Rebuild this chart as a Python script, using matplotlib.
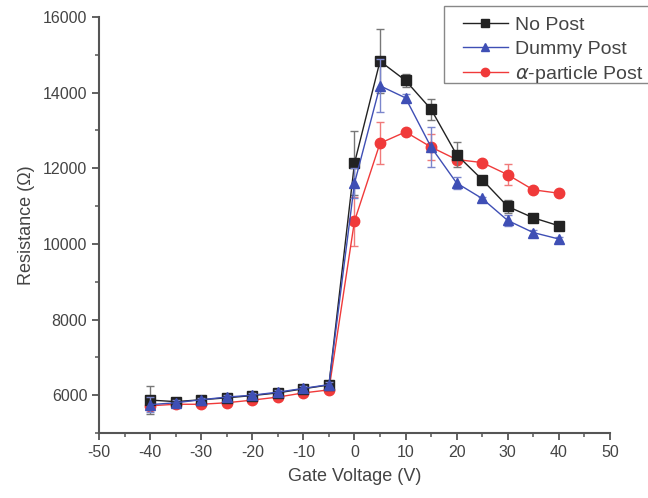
import matplotlib.pyplot as plt
from matplotlib.patches import Rectangle
from matplotlib.ticker import MultipleLocator

plt.rcParams['font.family'] = ['Liberation Sans', 'DejaVu Sans']
plt.rcParams['axes.unicode_minus'] = False

gate_v = [-40, -35, -30, -25, -20, -15, -10, -5, 0, 5, 10, 15, 20, 25, 30, 35, 40]

no_post = [5870, 5830, 5880, 5930, 5990, 6060, 6170, 6270, 12130, 14830, 14320, 13560, 12360, 11700, 10990, 10690, 10480]
no_post_err = [380, 60, 50, 50, 50, 50, 60, 80, 850, 840, 180, 280, 330, 60, 170, 60, 60]

dummy_post = [5750, 5800, 5880, 5950, 6000, 6080, 6180, 6280, 11600, 14180, 13860, 12560, 11610, 11200, 10620, 10300, 10130]
dummy_post_err = [200, 60, 50, 60, 60, 60, 60, 80, 400, 700, 100, 520, 150, 50, 150, 60, 60]

alpha_post = [5720, 5760, 5760, 5800, 5870, 5950, 6060, 6140, 10600, 12660, 12960, 12560, 12230, 12150, 11830, 11430, 11340]
alpha_post_err = [120, 50, 50, 50, 50, 50, 50, 60, 650, 560, 60, 350, 100, 50, 280, 60, 60]

fig = plt.figure(figsize=(6.48, 4.98), dpi=100)
ax = fig.add_axes([0.153, 0.1305, 0.788, 0.8355])

e1 = ax.errorbar(gate_v, no_post, yerr=no_post_err, color='#222222', ecolor='#777777',
                 marker='s', markersize=6.5, linewidth=1, elinewidth=1, capsize=3, zorder=3)
e2 = ax.errorbar(gate_v, dummy_post, yerr=dummy_post_err, color='#3f4fb5', ecolor='#7b86cc',
                 marker='^', markersize=7.5, linewidth=1, elinewidth=1, capsize=3, zorder=4)
e3 = ax.errorbar(gate_v, alpha_post, yerr=alpha_post_err, color='#f03a3a', ecolor='#f07a7a',
                 marker='o', markersize=7.5, linewidth=1, elinewidth=1, capsize=3, zorder=2)

ax.set_xlim(-50, 50)
ax.set_ylim(5000, 16000)
ax.xaxis.set_major_locator(MultipleLocator(10))
ax.xaxis.set_minor_locator(MultipleLocator(5))
ax.yaxis.set_minor_locator(MultipleLocator(1000))
ax.set_yticks([6000, 8000, 10000, 12000, 14000, 16000])

for s in ['top', 'right']:
    ax.spines[s].set_visible(False)
for s in ['left', 'bottom']:
    ax.spines[s].set_color('#555555')
    ax.spines[s].set_linewidth(1.5)

ax.tick_params(which='major', direction='out', length=5, width=1.3, colors='#555555',
               labelsize=11.5, labelcolor='#444444')
ax.tick_params(which='minor', direction='out', length=3, width=1.1, colors='#555555')

ax.set_xlabel('Gate Voltage (V)', fontsize=13, color='#444444', labelpad=6)
ax.set_ylabel('Resistance (Ω)', fontsize=13, color='#444444', labelpad=6)

# legend without frame, box drawn separately (it runs off the right edge)
leg = fig.legend([e1[0], e2[0], e3[0]], ['No Post', 'Dummy Post', r'$\alpha$-particle Post'],
                 loc='upper left', bbox_to_anchor=(463 / 648, 1 - 16 / 498), fontsize=14,
                 frameon=False, handlelength=2.3, borderpad=0, labelspacing=0.33,
                 handletextpad=0.35, borderaxespad=0, markerscale=0.8)
for t in leg.get_texts():
    t.set_color('#444444')
fig.add_artist(Rectangle((444 / 648, 1 - 83 / 498), 220 / 648, 77 / 498,
                         transform=fig.transFigure, fill=False,
                         edgecolor='#888888', linewidth=1))

fig.savefig('out.png', dpi=100)
